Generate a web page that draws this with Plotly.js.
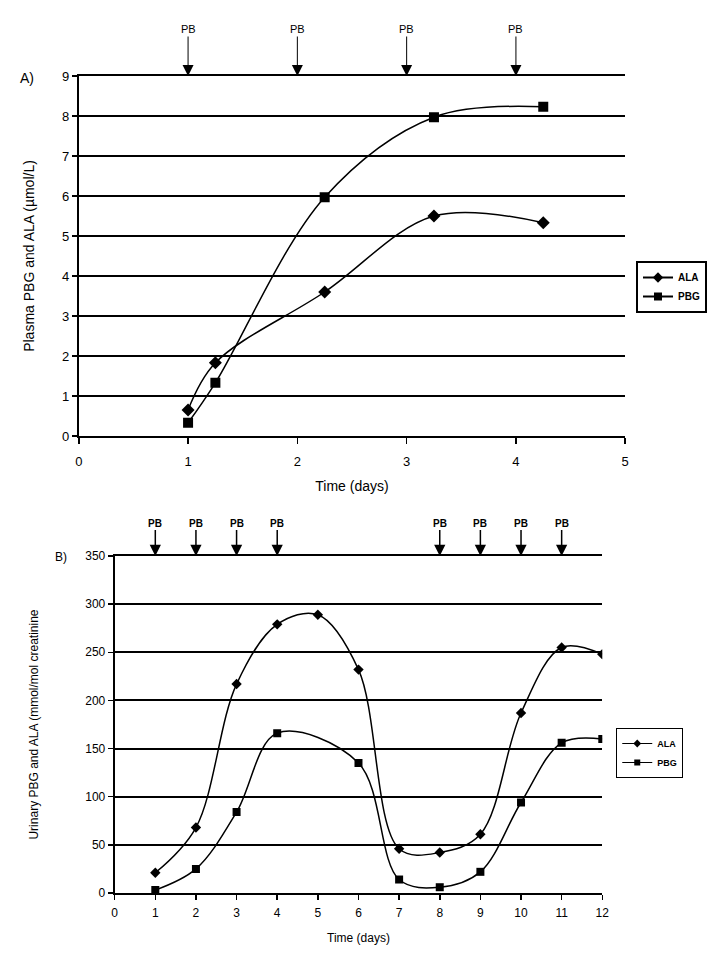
<!DOCTYPE html>
<html><head><meta charset="utf-8">
<script src="https://cdn.plot.ly/plotly-3.0.1.min.js"></script>
<style>html,body{margin:0;padding:0;background:#fff}#c{width:707px;height:960px}</style>
</head><body><div id="c"></div>
<script>
// Panel A: plasma
const daysA = [1, 1.25, 2.25, 3.25, 4.25];
const alaA = [0.65, 1.83, 3.6, 5.5, 5.33];
const pbgA = [0.33, 1.33, 5.97, 7.97, 8.23];
const pbDaysA = [1, 2, 3, 4];
// Panel B: urinary
const daysB_ala = [1,2,3,4,5,6,7,8,9,10,11,12];
const alaB = [21, 68, 217, 279, 289, 232, 46, 42, 61, 187, 255, 248];
const daysB_pbg = [1,2,3,4,6,7,8,9,10,11,12];
const pbgB = [3, 25, 84, 166, 135, 14, 6, 22, 94, 156, 160];
const pbDaysB = [1,2,3,4,8,9,10,11];
const seriesNames = ['ALA', 'PBG'];

const W=707,H=960;
const px=v=>v/W, py=v=>(H-v)/H;
const FONT='Liberation Sans, Arial, sans-serif';

const lineStyle={color:'#000',width:1.5,shape:'spline',smoothing:1};
const traces=[
 {x:daysA,y:alaA,name:seriesNames[0],mode:'lines+markers',line:lineStyle,marker:{symbol:'diamond',size:10,color:'#000'},xaxis:'x',yaxis:'y',showlegend:false},
 {x:daysA,y:pbgA,name:seriesNames[1],mode:'lines+markers',line:lineStyle,marker:{symbol:'square',size:10,color:'#000'},xaxis:'x',yaxis:'y',showlegend:false},
 {x:daysB_ala,y:alaB,name:seriesNames[0],mode:'lines+markers',line:lineStyle,marker:{symbol:'diamond',size:8,color:'#000'},xaxis:'x2',yaxis:'y2',showlegend:false},
 {x:daysB_pbg,y:pbgB,name:seriesNames[1],mode:'lines+markers',line:lineStyle,marker:{symbol:'square',size:8,color:'#000'},xaxis:'x2',yaxis:'y2',showlegend:false},
 // legend entries (smaller symbols as in the original key)
 {x:[null],y:[null],name:seriesNames[0],mode:'lines+markers',line:{color:'#000',width:2},marker:{symbol:'diamond',size:8,color:'#000'},xaxis:'x',yaxis:'y',legend:'legend'},
 {x:[null],y:[null],name:seriesNames[1],mode:'lines+markers',line:{color:'#000',width:2},marker:{symbol:'square',size:8,color:'#000'},xaxis:'x',yaxis:'y',legend:'legend'},
 {x:[null],y:[null],name:seriesNames[0],mode:'lines+markers',line:{color:'#000',width:1},marker:{symbol:'diamond',size:6,color:'#000'},xaxis:'x2',yaxis:'y2',legend:'legend2'},
 {x:[null],y:[null],name:seriesNames[1],mode:'lines+markers',line:{color:'#000',width:1},marker:{symbol:'square',size:6,color:'#000'},xaxis:'x2',yaxis:'y2',legend:'legend2'}
];

const ann=[];
pbDaysA.forEach(d=>ann.push({x:d,y:9,xref:'x',yref:'y',text:'PB',showarrow:true,ax:0,ay:-47,arrowhead:2,arrowsize:2.2,arrowwidth:1,arrowcolor:'#000',font:{family:FONT,size:11,color:'#000'}}));
pbDaysB.forEach(d=>ann.push({x:d,y:350,xref:'x2',yref:'y2',text:'<b>PB</b>',showarrow:true,ax:0,ay:-33,arrowhead:2,arrowsize:1.5,arrowwidth:1.5,arrowcolor:'#000',font:{family:FONT,size:10,color:'#000'}}));
ann.push({xref:'paper',yref:'paper',x:px(27),y:py(78),xanchor:'center',yanchor:'middle',text:'A)',showarrow:false,font:{family:FONT,size:14,color:'#000'}});
ann.push({xref:'paper',yref:'paper',x:px(61),y:py(557),xanchor:'center',yanchor:'middle',text:'B)',showarrow:false,font:{family:FONT,size:12,color:'#000'}});

const axBase={showline:true,linecolor:'#000',linewidth:2,ticks:'outside',ticklen:5,tickwidth:1.5,tickcolor:'#000',zeroline:false,fixedrange:true,color:'#000'};
const layout={
 width:W,height:H,margin:{l:0,r:0,t:0,b:0},paper_bgcolor:'#fff',plot_bgcolor:'#fff',
 font:{family:FONT,color:'#000'},showlegend:true,
 xaxis:Object.assign({},axBase,{domain:[px(79),px(627)],range:[0,5],dtick:1,tick0:0,showgrid:false,anchor:'y',mirror:true,ticklen:6,ticklabelstandoff:6,
   tickfont:{size:13},title:{text:'Time (days)',font:{size:14},standoff:14}}),
 yaxis:Object.assign({},axBase,{domain:[py(436),py(76)],range:[0,9],dtick:1,showgrid:true,gridcolor:'#000',gridwidth:2,anchor:'x',
   tickfont:{size:13},title:{text:'Plasma PBG and ALA (µmol/L)',font:{size:14},standoff:24}}),
 xaxis2:Object.assign({},axBase,{domain:[px(115),px(604)],range:[0,12],dtick:1,tick0:0,showgrid:false,anchor:'y2',mirror:true,ticklabelstandoff:3,
   tickfont:{size:12},title:{text:'Time (days)',font:{size:12},standoff:14}}),
 yaxis2:Object.assign({},axBase,{domain:[py(893),py(556)],range:[0,350],dtick:50,showgrid:true,gridcolor:'#000',gridwidth:2,anchor:'x2',
   tickfont:{size:12},title:{text:'Urinary PBG and ALA (mmol/mol creatinine',font:{size:12},standoff:44}}),
 legend:{x:px(638),y:py(261),xanchor:'left',yanchor:'top',bordercolor:'#000',borderwidth:2,bgcolor:'#fff',
   font:{size:10,weight:'bold'},itemwidth:30,tracegroupgap:0},
 legend2:{x:px(618),y:py(728),xanchor:'left',yanchor:'top',bordercolor:'#000',borderwidth:1,bgcolor:'#fff',
   font:{size:9,weight:'bold'},itemwidth:30,tracegroupgap:0},
 annotations:ann
};
Plotly.newPlot('c',traces,layout,{displayModeBar:false,staticPlot:true});
</script></body></html>
